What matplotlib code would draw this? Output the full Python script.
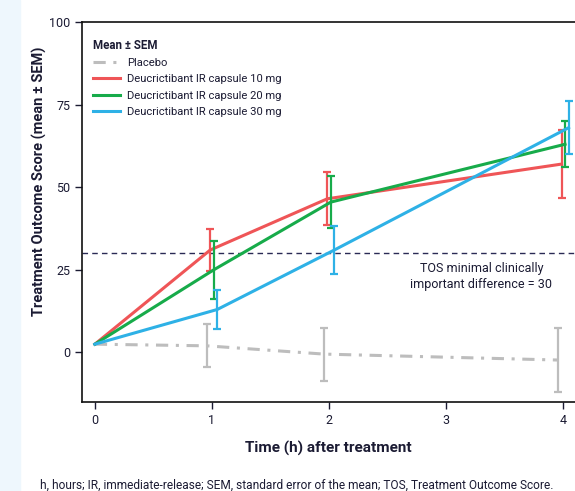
import matplotlib
matplotlib.use("Agg")
import matplotlib.pyplot as plt
from matplotlib.patches import Rectangle

plt.rcParams['font.family'] = ['Roboto', 'DejaVu Sans']

# data
time_h = [0, 1, 2, 4]
placebo = [2.5, 2.0, -0.5, -2.3]
placebo_sem = [0, 6.5, 8.0, 9.8]
ir10 = [2.5, 31.0, 46.5, 57.0]
ir10_sem = [0, 6.5, 8.0, 10.3]
ir20 = [2.5, 25.0, 45.5, 63.0]
ir20_sem = [0, 8.8, 7.8, 7.0]
ir30 = [2.5, 13.0, 31.0, 68.0]
ir30_sem = [0, 6.0, 7.3, 8.0]
mcid = 30

series = [
    ("Placebo", placebo, placebo_sem, "#bdbdbd", (0, (4, 2.5, 1, 2.5)), -0.045),
    ("Deucrictibant IR capsule 10 mg", ir10, ir10_sem, "#ef5557", "-", -0.015),
    ("Deucrictibant IR capsule 20 mg", ir20, ir20_sem, "#17ab4a", "-", 0.015),
    ("Deucrictibant IR capsule 30 mg", ir30, ir30_sem, "#2eb1e6", "-", 0.045),
]

txt = "#1b1b33"
fig = plt.figure(figsize=(5.75, 4.91), dpi=100)
fig.patches.append(Rectangle((0, 0), 20 / 575, 1, transform=fig.transFigure,
                             color="#eef7fd", zorder=0))
ax = fig.add_axes([82 / 575, 1 - 402 / 491, 1 - 82 / 575, 380 / 491])

for name, vals, sem, col, ls, dx in series:
    xs = [t + dx if t > 0 else t for t in time_h]
    ax.plot(xs, vals, color=col, lw=2.2, ls=ls, label=name, zorder=3)
    ax.errorbar(xs[1:], vals[1:], yerr=sem[1:], fmt="none", ecolor=col,
                elinewidth=1.6, capsize=3, capthick=1.6, zorder=3)

ax.axhline(mcid, color="#2a2a55", lw=1, ls=(0, (4, 3)), zorder=2)
ax.text(3.3, 27.5, "TOS minimal clinically\nimportant difference = 30",
        ha="center", va="top", fontsize=9, color=txt, linespacing=1.3)

ax.set_xlim(-0.11, 4.1)
ax.set_ylim(-15, 100)
ax.set_xticks([0, 1, 2, 3, 4])
ax.set_yticks([0, 25, 50, 75, 100])
ax.spines['right'].set_visible(False)
for s in ['left', 'top', 'bottom']:
    ax.spines[s].set_linewidth(1.2)
    ax.spines[s].set_color("#111111")
ax.tick_params(direction="out", length=5, width=1, labelsize=9, colors=txt)

ax.set_xlabel("Time (h) after treatment", fontsize=11, fontweight="bold",
              color=txt, labelpad=10)
ax.set_ylabel("Treatment Outcome Score (mean \u00b1 SEM)", fontsize=10.5,
              fontweight="bold", color=txt)
ax.yaxis.set_label_coords(-0.07, 0.58)

leg = ax.legend(loc="upper left", bbox_to_anchor=(0.0, 0.985), frameon=False,
                fontsize=8.1, title="Mean \u00b1 SEM",
                title_fontproperties={"weight": "bold", "size": 8.3},
                handlelength=2.4, handletextpad=0.6, labelspacing=0.55,
                borderaxespad=0.6, alignment="left")
for t in leg.get_texts():
    t.set_color(txt)
leg.get_title().set_color(txt)

fig.text(40 / 575, 1 - 485 / 491, "h, hours; IR, immediate-release; SEM, standard error "
         "of the mean; TOS, Treatment Outcome Score.", fontsize=8.6, color=txt,
         va="center")

fig.savefig("out.png", dpi=100)
